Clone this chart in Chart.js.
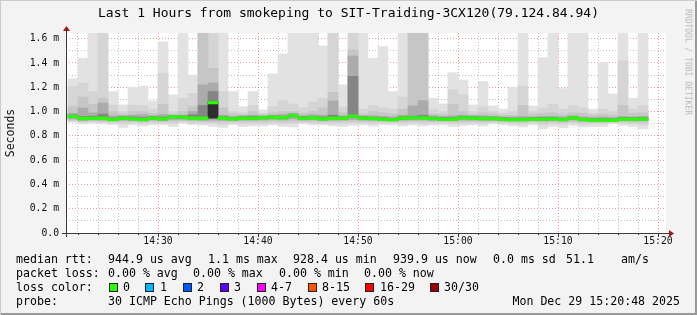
<!DOCTYPE html>
<html>
<head>
<meta charset="utf-8">
<script src="https://cdn.jsdelivr.net/npm/chart.js@4.4.1/dist/chart.umd.min.js"></script>
<style>
  body { margin: 0; }
  #wrap {
    position: relative; width: 697px; height: 315px; overflow: hidden;
    background: #f3f3f3; color: #000;
    font-family: 'DejaVu Sans Mono', monospace;
    box-shadow: inset 1px 1px #cbcbcb, inset -2px -2px #999;
  }
  #wrap canvas { position: absolute; left: 0; top: 0; }
  .title { position: absolute; left: 0; top: 5px; width: 697px; text-align: center; font-size: 13px; line-height: 16px; white-space: pre; }
  .t { position: absolute; white-space: pre; font-size: 11.6px; line-height: 14px; }
  .box { position: absolute; width: 7px; height: 7px; border: 1px solid #222; }
  .mark {
    position: absolute; left: 688px; top: 62px; font-size: 8px; color: #b8b8b8; white-space: pre;
    transform: translate(-50%, -50%) rotate(90deg);
  }
</style>
</head>
<body>
<div id="wrap">
  <canvas id="chart" width="697" height="315"></canvas>
  <div class="title">Last 1 Hours from smokeping to SIT-Traiding-3CX120(79.124.84.94)</div>
  <div class="mark">RRDTOOL / TOBI OETIKER</div>

  <div class="t" style="left:16px;top:252px">median rtt:</div>
  <div class="t" style="left:108px;top:252px">944.9 us avg</div>
  <div class="t" style="left:208px;top:252px">1.1 ms max</div>
  <div class="t" style="left:293px;top:252px">928.4 us min</div>
  <div class="t" style="left:393px;top:252px">939.9 us now</div>
  <div class="t" style="left:493px;top:252px">0.0 ms sd</div>
  <div class="t" style="left:566px;top:252px">51.1</div>
  <div class="t" style="left:621px;top:252px">am/s</div>

  <div class="t" style="left:16px;top:266px">packet loss:</div>
  <div class="t" style="left:108px;top:266px">0.00 % avg</div>
  <div class="t" style="left:193px;top:266px">0.00 % max</div>
  <div class="t" style="left:279px;top:266px">0.00 % min</div>
  <div class="t" style="left:364px;top:266px">0.00 % now</div>

  <div class="t" style="left:16px;top:280px">loss color:</div>
  <div class="box" style="left:109px;top:283px;background:#26ff00"></div><div class="t" style="left:123px;top:280px">0</div>
  <div class="box" style="left:145px;top:283px;background:#00b8ff"></div><div class="t" style="left:160px;top:280px">1</div>
  <div class="box" style="left:183px;top:283px;background:#0059ff"></div><div class="t" style="left:197px;top:280px">2</div>
  <div class="box" style="left:220px;top:283px;background:#5e00ff"></div><div class="t" style="left:234px;top:280px">3</div>
  <div class="box" style="left:257px;top:283px;background:#ff00ff"></div><div class="t" style="left:271px;top:280px">4-7</div>
  <div class="box" style="left:308px;top:283px;background:#ff5500"></div><div class="t" style="left:322px;top:280px">8-15</div>
  <div class="box" style="left:365px;top:283px;background:#ff0000"></div><div class="t" style="left:380px;top:280px">16-29</div>
  <div class="box" style="left:430px;top:283px;background:#a00000"></div><div class="t" style="left:444px;top:280px">30/30</div>

  <div class="t" style="left:16px;top:294px">probe:</div>
  <div class="t" style="left:108px;top:294px">30 ICMP Echo Pings (1000 Bytes) every 60s</div>
  <div class="t" style="right:17px;top:294px">Mon Dec 29 15:20:48 2025</div>
</div>
<script>
// one column per minute (start of the minute)
const times = [
  '14:21','14:22','14:23','14:24','14:25','14:26','14:27','14:28','14:29','14:30',
  '14:31','14:32','14:33','14:34','14:35','14:36','14:37','14:38','14:39','14:40',
  '14:41','14:42','14:43','14:44','14:45','14:46','14:47','14:48','14:49','14:50',
  '14:51','14:52','14:53','14:54','14:55','14:56','14:57','14:58','14:59','15:00',
  '15:01','15:02','15:03','15:04','15:05','15:06','15:07','15:08','15:09','15:10',
  '15:11','15:12','15:13','15:14','15:15','15:16','15:17','15:18'
];

// median rtt in ms
const medians = [
  0.959,0.942,0.945,0.945,0.934,0.945,0.940,0.934,0.945,0.940,
  0.956,0.953,0.945,0.945,1.073,0.945,0.940,0.945,0.945,0.948,
  0.953,0.950,0.967,0.945,0.948,0.940,0.945,0.945,0.962,0.945,
  0.942,0.937,0.934,0.945,0.948,0.948,0.942,0.937,0.937,0.948,
  0.945,0.942,0.942,0.937,0.934,0.934,0.937,0.937,0.940,0.934,
  0.948,0.934,0.930,0.930,0.928,0.937,0.937,0.937
];

// smoke: outer pings (min / max)
const pingMin = [
  0.913,0.899,0.905,0.899,0.891,0.869,0.891,0.882,0.891,0.891,
  0.877,0.905,0.891,0.891,0.877,0.869,0.891,0.877,0.882,0.882,
  0.891,0.877,0.873,0.899,0.891,0.891,0.882,0.877,0.885,0.891,
  0.882,0.891,0.891,0.882,0.891,0.882,0.891,0.891,0.877,0.885,
  0.891,0.882,0.899,0.891,0.882,0.873,0.891,0.858,0.877,0.869,
  0.888,0.873,0.877,0.877,0.899,0.888,0.877,0.858
];
const pingMax = [
  1.270,1.440,1.800,1.800,1.165,1.055,1.200,1.210,1.088,1.575,
  1.137,1.800,1.300,1.800,1.800,1.800,1.165,1.040,1.165,1.014,
  1.310,1.474,1.800,1.800,1.800,1.540,1.800,1.220,1.800,1.800,
  1.440,1.535,1.165,1.800,1.800,1.800,1.110,1.063,1.320,1.260,
  1.055,1.247,1.046,1.020,1.200,1.800,1.046,1.444,1.800,1.190,
  1.800,1.800,1.020,1.403,1.145,1.800,1.110,1.800
];

// inner smoke layers, outer to inner
const lo2 = [
  0.921,0.910,0.915,0.910,0.905,0.900,0.905,0.900,0.907,0.905,
  0.900,0.915,0.905,0.905,0.905,0.895,0.905,0.900,0.900,0.900,
  0.905,0.900,0.900,0.910,0.905,0.905,0.900,0.900,0.905,0.905,
  0.900,0.905,0.905,0.900,0.905,0.900,0.905,0.905,0.900,0.900,
  0.905,0.900,0.910,0.905,0.900,0.895,0.905,0.890,0.900,0.895,
  0.905,0.895,0.900,0.900,0.910,0.905,0.900,0.890
];
const hi2 = [
  1.205,1.234,1.165,1.800,1.055,1.000,1.055,1.050,1.020,1.316,
  1.000,1.110,1.150,1.800,1.800,1.165,1.000,0.990,1.050,0.985,
  1.040,1.090,1.063,1.030,1.080,1.110,1.800,1.040,1.800,1.020,
  1.050,1.030,1.020,1.120,1.800,1.800,1.020,1.000,1.180,1.137,
  1.000,1.040,1.000,0.985,1.000,1.210,1.000,1.030,1.060,1.020,
  1.050,1.030,0.985,1.020,1.000,1.417,1.020,1.050
];
const lo3 = [
  0.930,0.920,0.925,0.920,0.918,0.918,0.918,0.915,0.920,0.918,
  0.922,0.925,0.920,0.918,0.915,0.915,0.918,0.918,0.918,0.918,
  0.922,0.918,0.920,0.920,0.920,0.918,0.918,0.918,0.920,0.920,
  0.918,0.918,0.918,0.918,0.920,0.918,0.918,0.918,0.915,0.918,
  0.918,0.918,0.920,0.915,0.915,0.912,0.918,0.912,0.915,0.912,
  0.918,0.912,0.912,0.912,0.915,0.915,0.912,0.910
];
const hi3 = [
  1.040,1.120,1.060,1.110,1.000,0.980,1.000,1.000,0.985,1.060,
  0.980,1.000,1.040,1.800,1.357,1.030,0.980,0.975,1.000,0.975,
  0.990,1.000,1.000,0.985,1.000,1.030,1.157,0.990,1.507,0.980,
  1.000,0.990,0.980,1.020,1.800,1.800,0.980,0.975,1.060,1.000,
  0.975,0.990,0.980,0.970,0.970,1.050,0.975,0.985,0.990,0.975,
  0.990,0.985,0.970,0.980,0.970,1.050,0.985,0.990
];
const lo4 = [
  0.940,0.928,0.932,0.930,0.925,0.930,0.927,0.922,0.930,0.927,
  0.935,0.935,0.930,0.928,0.930,0.928,0.927,0.930,0.930,0.932,
  0.935,0.932,0.940,0.930,0.932,0.927,0.930,0.930,0.935,0.930,
  0.928,0.925,0.922,0.930,0.932,0.932,0.928,0.925,0.925,0.932,
  0.930,0.928,0.928,0.925,0.922,0.922,0.925,0.925,0.927,0.922,
  0.932,0.922,0.918,0.918,0.918,0.925,0.925,0.925
];
const hi4 = [
  0.985,1.030,0.990,1.070,0.965,0.965,0.970,0.975,0.965,0.975,
  0.965,0.970,1.000,1.220,1.235,0.970,0.960,0.965,0.970,0.965,
  0.970,0.975,0.985,0.965,0.975,0.970,1.088,0.965,1.458,0.965,
  0.965,0.960,0.955,0.970,1.046,1.090,0.965,0.960,0.965,0.970,
  0.965,0.965,0.960,0.955,0.955,0.960,0.955,0.960,0.960,0.955,
  0.965,0.955,0.950,0.955,0.950,0.960,0.955,0.960
];
const lo5 = [
  0.950,0.933,0.937,0.937,0.925,0.937,0.932,0.926,0.937,0.932,
  0.947,0.945,0.937,0.937,0.946,0.937,0.932,0.937,0.937,0.940,
  0.945,0.942,0.958,0.937,0.940,0.932,0.937,0.937,0.953,0.937,
  0.934,0.929,0.926,0.937,0.940,0.940,0.934,0.929,0.929,0.940,
  0.937,0.934,0.934,0.929,0.926,0.926,0.929,0.929,0.932,0.926,
  0.940,0.926,0.922,0.922,0.920,0.929,0.929,0.929
];
const hi5 = [
  0.972,0.958,0.962,0.980,0.948,0.958,0.956,0.950,0.958,0.955,
  0.968,0.966,0.975,1.050,1.165,0.958,0.952,0.958,0.960,0.960,
  0.965,0.962,0.978,0.958,0.960,0.955,0.970,0.956,1.290,0.958,
  0.955,0.950,0.946,0.958,0.962,0.970,0.955,0.950,0.950,0.960,
  0.958,0.955,0.955,0.950,0.946,0.946,0.950,0.950,0.953,0.946,
  0.960,0.946,0.942,0.942,0.940,0.950,0.950,0.950
];
// darkest core, only where the pings bunch up
const lo6 = [
  null,null,null,null,null,null,null,null,null,null,
  null,null,null,null,0.946,null,null,null,null,null,
  null,null,null,null,null,null,null,null,null,null,
  null,null,null,null,null,null,null,null,null,null,
  null,null,null,null,null,null,null,null,null,null,
  null,null,null,null,null,null,null,null
];
const hi6 = [
  null,null,null,null,null,null,null,null,null,null,
  null,null,null,null,1.080,null,null,null,null,null,
  null,null,null,null,null,null,null,null,null,null,
  null,null,null,null,null,null,null,null,null,null,
  null,null,null,null,null,null,null,null,null,null,
  null,null,null,null,null,null,null,null
];

// grid / tick positions
const yTicks = [0,0.1,0.2,0.3,0.4,0.5,0.6,0.7,0.8,0.9,1.0,1.1,1.2,1.3,1.4,1.5,1.6];
const xTicks = [22,24,26,28,30,32,34,36,38,40,42,44,46,48,50,52,54,56,58,60,62,64,66,68,70,72,74,76,78,80];

// minutes since 14:00, column centre
const xs = times.map(t => {
  const [h, m] = t.split(':').map(Number);
  return (h - 14) * 60 + m + 0.5;
});
const fmtTime = v => (14 + Math.floor(v / 60)) + ':' + String(v % 60).padStart(2, '0');

const band = (lo, hi) => xs.map((x, i) => ({x, y: [lo[i], hi[i]]})).filter(p => p.y[1] != null);

const smoke = [
  [pingMin, pingMax, '#e2e2e2'],
  [lo2, hi2, '#d5d5d5'],
  [lo3, hi3, '#c6c6c6'],
  [lo4, hi4, '#ababab'],
  [lo5, hi5, '#858585'],
  [lo6, hi6, '#2e2e2e'],
];

const MED_HALF = 0.0105; // ~2.5px thick median line
const datasets = smoke.map(([lo, hi, color], i) => ({
  data: band(lo, hi),
  backgroundColor: color,
  order: 20 - i,
}));
datasets.push({
  data: xs.map((x, i) => ({x, y: [medians[i] - MED_HALF, medians[i] + MED_HALF]})),
  backgroundColor: '#26ff00',
  order: 0,
});

const FONT = "'DejaVu Sans Mono', monospace";
const pink = 'rgba(225,70,70,0.55)';
const grey = 'rgba(120,120,120,0.45)';

const rrdFrame = {
  id: 'rrdFrame',
  beforeDraw(chart) {
    const {ctx, chartArea: a} = chart;
    ctx.save();
    ctx.fillStyle = '#ffffff';
    ctx.fillRect(a.left, a.top, a.right - a.left, a.bottom - a.top);
    ctx.restore();
  },
  afterDraw(chart) {
    const {ctx, chartArea: a, scales: {x}} = chart;
    const yb = a.bottom + 0.5, xl = a.left + 0.5;
    ctx.save();
    ctx.strokeStyle = '#3a3a3a';
    ctx.lineWidth = 1;
    ctx.beginPath();
    ctx.moveTo(a.left - 4, yb); ctx.lineTo(a.right + 4, yb);
    ctx.moveTo(xl, a.bottom + 4); ctx.lineTo(xl, a.top - 3);
    xTicks.forEach(v => {
      const px = Math.round(x.getPixelForValue(v)) + 0.5;
      ctx.moveTo(px, a.bottom); ctx.lineTo(px, a.bottom + (v % 10 === 0 ? 4 : 2));
    });
    ctx.stroke();
    ctx.fillStyle = '#a01818';
    ctx.beginPath();
    ctx.moveTo(xl, a.top - 7); ctx.lineTo(xl - 3.5, a.top - 2); ctx.lineTo(xl + 3.5, a.top - 2);
    ctx.closePath(); ctx.fill();
    ctx.beginPath();
    ctx.moveTo(a.right + 8, yb); ctx.lineTo(a.right + 3, yb - 3.5); ctx.lineTo(a.right + 3, yb + 3.5);
    ctx.closePath(); ctx.fill();
    ctx.restore();
  }
};

new Chart(document.getElementById('chart'), {
  type: 'bar',
  data: {datasets},
  plugins: [rrdFrame],
  options: {
    responsive: false,
    animation: false,
    devicePixelRatio: 1,
    layout: {padding: {left: 0, top: 33, right: 31, bottom: 62}},
    datasets: {bar: {grouped: false, barPercentage: 1, categoryPercentage: 1, borderWidth: 0}},
    plugins: {legend: {display: false}, tooltip: {enabled: false}},
    scales: {
      x: {
        type: 'linear',
        min: 20.8,
        max: 80.8,
        bounds: 'data',
        offset: false,
        z: 1,
        afterBuildTicks: s => { s.ticks = xTicks.map(value => ({value})); },
        afterFit: s => { s.height = 20; },
        grid: {
          offset: false,
          drawTicks: false,
          color: c => (c.tick && c.tick.value % 10 === 0 ? pink : grey),
        },
        border: {display: false, dash: [1, 2]},
        ticks: {
          autoSkip: false,
          maxRotation: 0,
          padding: 3,
          color: '#111',
          font: {family: FONT, size: 9.75},
          callback: v => (v % 10 === 0 ? fmtTime(v) : ''),
        },
      },
      y: {
        min: 0,
        max: 1.647,
        bounds: 'data',
        z: 1,
        afterBuildTicks: s => { s.ticks = yTicks.map(value => ({value})); },
        afterFit: s => { s.width = 66; },
        grid: {
          drawTicks: false,
          color: c => (c.index % 2 === 0 ? pink : grey),
        },
        border: {display: false, dash: [1, 2]},
        ticks: {
          autoSkip: false,
          padding: 7,
          color: '#111',
          font: {family: FONT, size: 9.75},
          callback: (v, i) => (i % 2 ? '' : (v === 0 ? '0.0' : v.toFixed(1) + ' m')),
        },
        title: {
          display: true,
          text: 'Seconds',
          color: '#111',
          font: {family: FONT, size: 11.5},
          padding: {top: 4, bottom: 0},
        },
      },
    },
  },
});
</script>
</body>
</html>
